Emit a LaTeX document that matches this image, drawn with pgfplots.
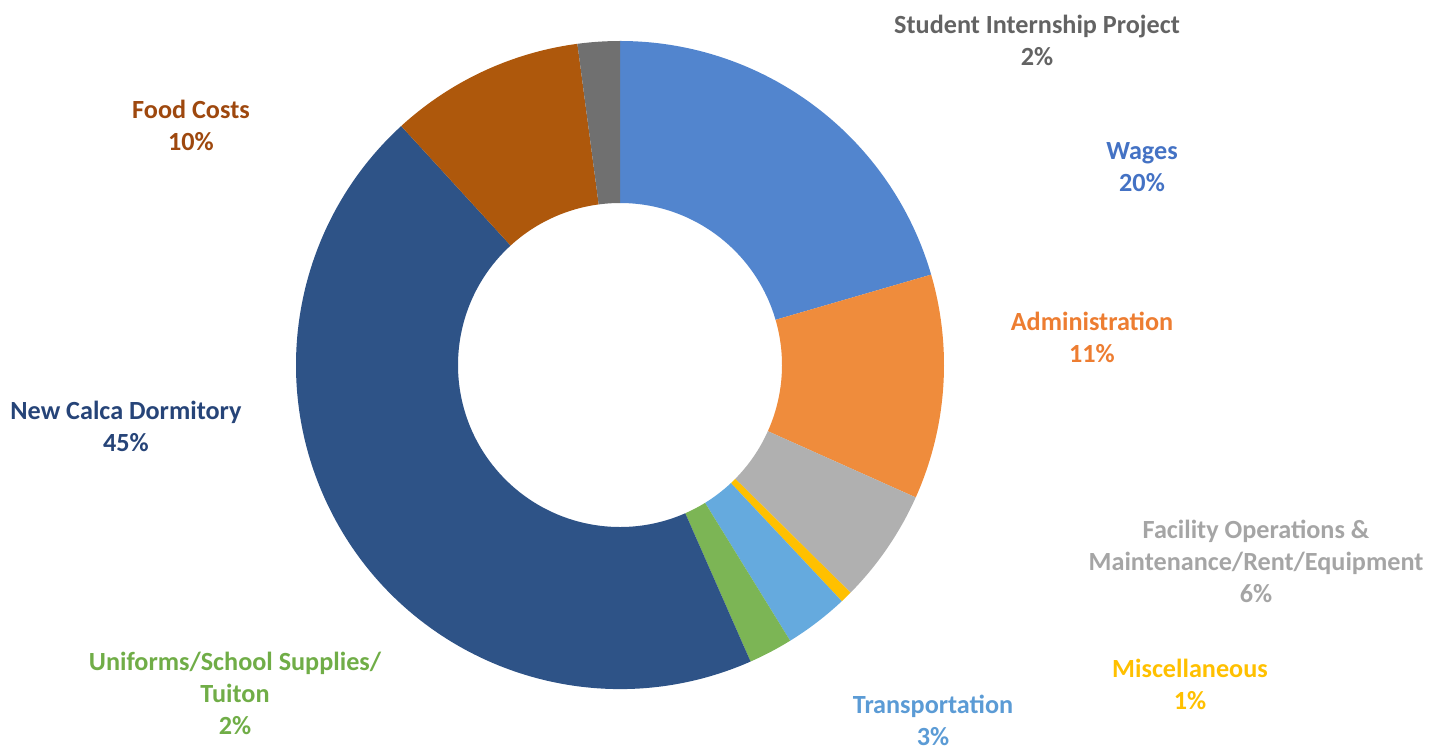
\documentclass[border=0pt]{standalone}
\usepackage{pgfplots}
\usepackage{pgfplotstable}
\pgfplotsset{compat=1.18}
\usepackage{fontspec}
\setmainfont{Carlito}

\definecolor{cWages}{RGB}{82,133,206}
\definecolor{cAdmin}{RGB}{239,140,60}
\definecolor{cFacil}{RGB}{176,176,176}
\definecolor{cMisc}{RGB}{255,192,0}
\definecolor{cTrans}{RGB}{101,170,222}
\definecolor{cUnif}{RGB}{124,181,85}
\definecolor{cCalca}{RGB}{46,83,135}
\definecolor{cFood}{RGB}{174,88,12}
\definecolor{cStud}{RGB}{112,112,112}

\definecolor{tWages}{RGB}{68,114,196}
\definecolor{tAdmin}{RGB}{237,125,49}
\definecolor{tFacil}{RGB}{165,165,165}
\definecolor{tMisc}{RGB}{255,192,0}
\definecolor{tTrans}{RGB}{91,155,213}
\definecolor{tUnif}{RGB}{112,173,71}
\definecolor{tCalca}{RGB}{38,68,120}
\definecolor{tFood}{RGB}{158,72,14}
\definecolor{tStud}{RGB}{99,99,99}

% share of the budget, in per cent, clockwise from the top
\pgfplotstableread[col sep=comma]{
label,value,color
Wages,20.5,cWages
Administration,11.2,cAdmin
Facility,5.7,cFacil
Miscellaneous,0.6,cMisc
Transportation,3.2,cTrans
Uniforms,2.2,cUnif
Calca,44.8,cCalca
Food,9.7,cFood
Student,2.1,cStud
}\donutdata

\begin{document}
\begin{tikzpicture}
\begin{axis}[
  x=0.5bp, y=0.5bp,
  xmin=0, xmax=1442, ymin=0, ymax=753,
  y dir=reverse,
  hide axis, clip=false,
  scale only axis,
]
\path (axis cs:0,0) rectangle (axis cs:1442,753);
\def\curang{90}
\pgfplotsforeachungrouped \i in {0,...,8}{%
  \pgfplotstablegetelem{\i}{value}\of\donutdata \let\v\pgfplotsretval
  \pgfplotstablegetelem{\i}{color}\of\donutdata \let\c\pgfplotsretval
  \pgfmathsetmacro\endang{\curang-3.6*\v}%
  \pgfmathsetmacro\revang{\endang+180}%
  \edef\temp{\noexpand\fill[\c] (axis cs:620,365) ++(\curang:162bp)
    arc[start angle=\curang, end angle=\endang, radius=162bp]
    -- ++(\revang:81bp)
    arc[start angle=\endang, end angle=\curang, radius=81bp] -- cycle;}%
  \temp
  \global\let\curang\endang
}

\tikzset{lab/.style={align=center, font=\fontsize{13.1bp}{16bp}\selectfont\bfseries, inner sep=0pt}}
\node[lab, text=tStud]  at (axis cs:1037,40)  {Student Internship Project\\2\%};
\node[lab, text=tWages] at (axis cs:1142,167) {Wages\\20\%};
\node[lab, text=tAdmin] at (axis cs:1092,337) {Administration\\11\%};
\node[lab, text=tFacil] at (axis cs:1256,561) {Facility Operations \&\\Maintenance/Rent/Equipment\\6\%};
\node[lab, text=tMisc]  at (axis cs:1190,684) {Miscellaneous\\1\%};
\node[lab, text=tTrans] at (axis cs:933,720)  {Transportation\\3\%};
\node[lab, text=tUnif]  at (axis cs:235,693)  {Uniforms/School Supplies/\\Tuiton\\2\%};
\node[lab, text=tCalca] at (axis cs:126,426)  {New Calca Dormitory\\45\%};
\node[lab, text=tFood]  at (axis cs:191,125)  {Food Costs\\10\%};
\end{axis}
\end{tikzpicture}
\end{document}
